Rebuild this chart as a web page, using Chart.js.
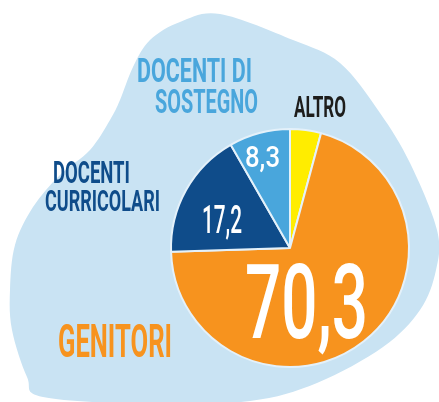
<!DOCTYPE html>
<html>
<head>
<meta charset="utf-8">
<script src="https://cdn.jsdelivr.net/npm/chart.js@4.4.1/dist/chart.umd.min.js"></script>
<style>
	html, body { margin: 0; padding: 0; background: #ffffff; }
	canvas { display: block; }
</style>
</head>
<body>
<canvas id="torta" width="439" height="402"></canvas>
<script>

// dati
var categorie = ["ALTRO", "GENITORI", "DOCENTI CURRICOLARI", "DOCENTI DI SOSTEGNO"];
var valori = [4.2, 70.3, 17.2, 8.3];
var righeEtichette = [["ALTRO"], ["GENITORI"], ["DOCENTI", "CURRICOLARI"], ["DOCENTI DI", "SOSTEGNO"]];
var mostraValore = [false, true, true, true];

var colori = ["#FFED00", "#F7931E", "#0F4C8A", "#49A6DC"];
var coloriTesto = ["#1d1d1b", "#F7931E", "#0F4C8A", "#49A6DC"];

// posizioni testo (x, baseline, larghezza, corpo)
var posEtichette = [
	[[294, 117, 52, 29]],
	[[58, 357, 114, 46]],
	[[53, 183, 77, 31], [45, 211, 115, 30]],
	[[137, 82, 115, 34], [155, 113, 103, 34]]
];
var posValori = [
	null,
	[245, 338, 123, 103],
	[202, 233, 40, 39],
	[245, 167, 35, 30]
];

// sagoma azzurra di sfondo
var sagoma = [
	[220,14],[293,40],[340,63],[380,113],[410,163],[437,230],[436,270],[420,310],
	[383,347],[317,383],[250,401],[150,404],[43,397],[27,377],[12,330],[10,290],
	[15,245],[33,207],[60,175],[90,150],[110,120],[120,100],[133,67],[150,40],[180,22]
];

var pluginSfondo = {
	id: 'sfondo',
	beforeDraw: function(chart){
		var ctx = chart.ctx;
		var p = sagoma, n = p.length;
		ctx.save();
		ctx.fillStyle = "#C9E3F3";
		ctx.beginPath();
		ctx.moveTo(p[0][0], p[0][1]);
		for (var i = 0; i < n; i++){
			var p0 = p[(i - 1 + n) % n], p1 = p[i], p2 = p[(i + 1) % n], p3 = p[(i + 2) % n];
			ctx.bezierCurveTo(
				p1[0] + (p2[0] - p0[0]) / 6, p1[1] + (p2[1] - p0[1]) / 6,
				p2[0] - (p3[0] - p1[0]) / 6, p2[1] - (p3[1] - p1[1]) / 6,
				p2[0], p2[1]);
		}
		ctx.closePath();
		ctx.fill();
		ctx.restore();
	}
};

var pluginTesti = {
	id: 'testi',
	afterDraw: function(chart){
		var ctx = chart.ctx;
		ctx.save();
		ctx.textAlign = 'left';
		ctx.textBaseline = 'alphabetic';
		categorie.forEach(function(c, i){
			ctx.fillStyle = coloriTesto[i];
			righeEtichette[i].forEach(function(riga, j){
				var q = posEtichette[i][j];
				ctx.font = "bold " + q[3] + "px Roboto, 'DejaVu Sans', sans-serif";
				ctx.fillText(riga, q[0], q[1], q[2]);
			});
			if (mostraValore[i]){
				var v = posValori[i];
				ctx.fillStyle = "#ffffff";
				ctx.font = "500 " + v[3] + "px Roboto, 'DejaVu Sans', sans-serif";
				ctx.fillText(valori[i].toFixed(1).replace('.', ','), v[0], v[1], v[2]);
			}
		});
		ctx.restore();
	}
};

var impostazioni = {
	type: 'pie',
	data: {
		labels: categorie,
		datasets: [{
			data: valori,
			backgroundColor: colori,
			borderColor: "#E4F1FA",
			borderWidth: 2
		}]
	},
	options: {
		responsive: false,
		animation: false,
		layout: { padding: { left: 170, right: 29, top: 128, bottom: 34 } },
		plugins: {
			legend: { display: false },
			tooltip: { enabled: false }
		}
	},
	plugins: [pluginSfondo, pluginTesti]
};

new Chart(document.getElementById('torta'), impostazioni);
</script>
</body>
</html>
